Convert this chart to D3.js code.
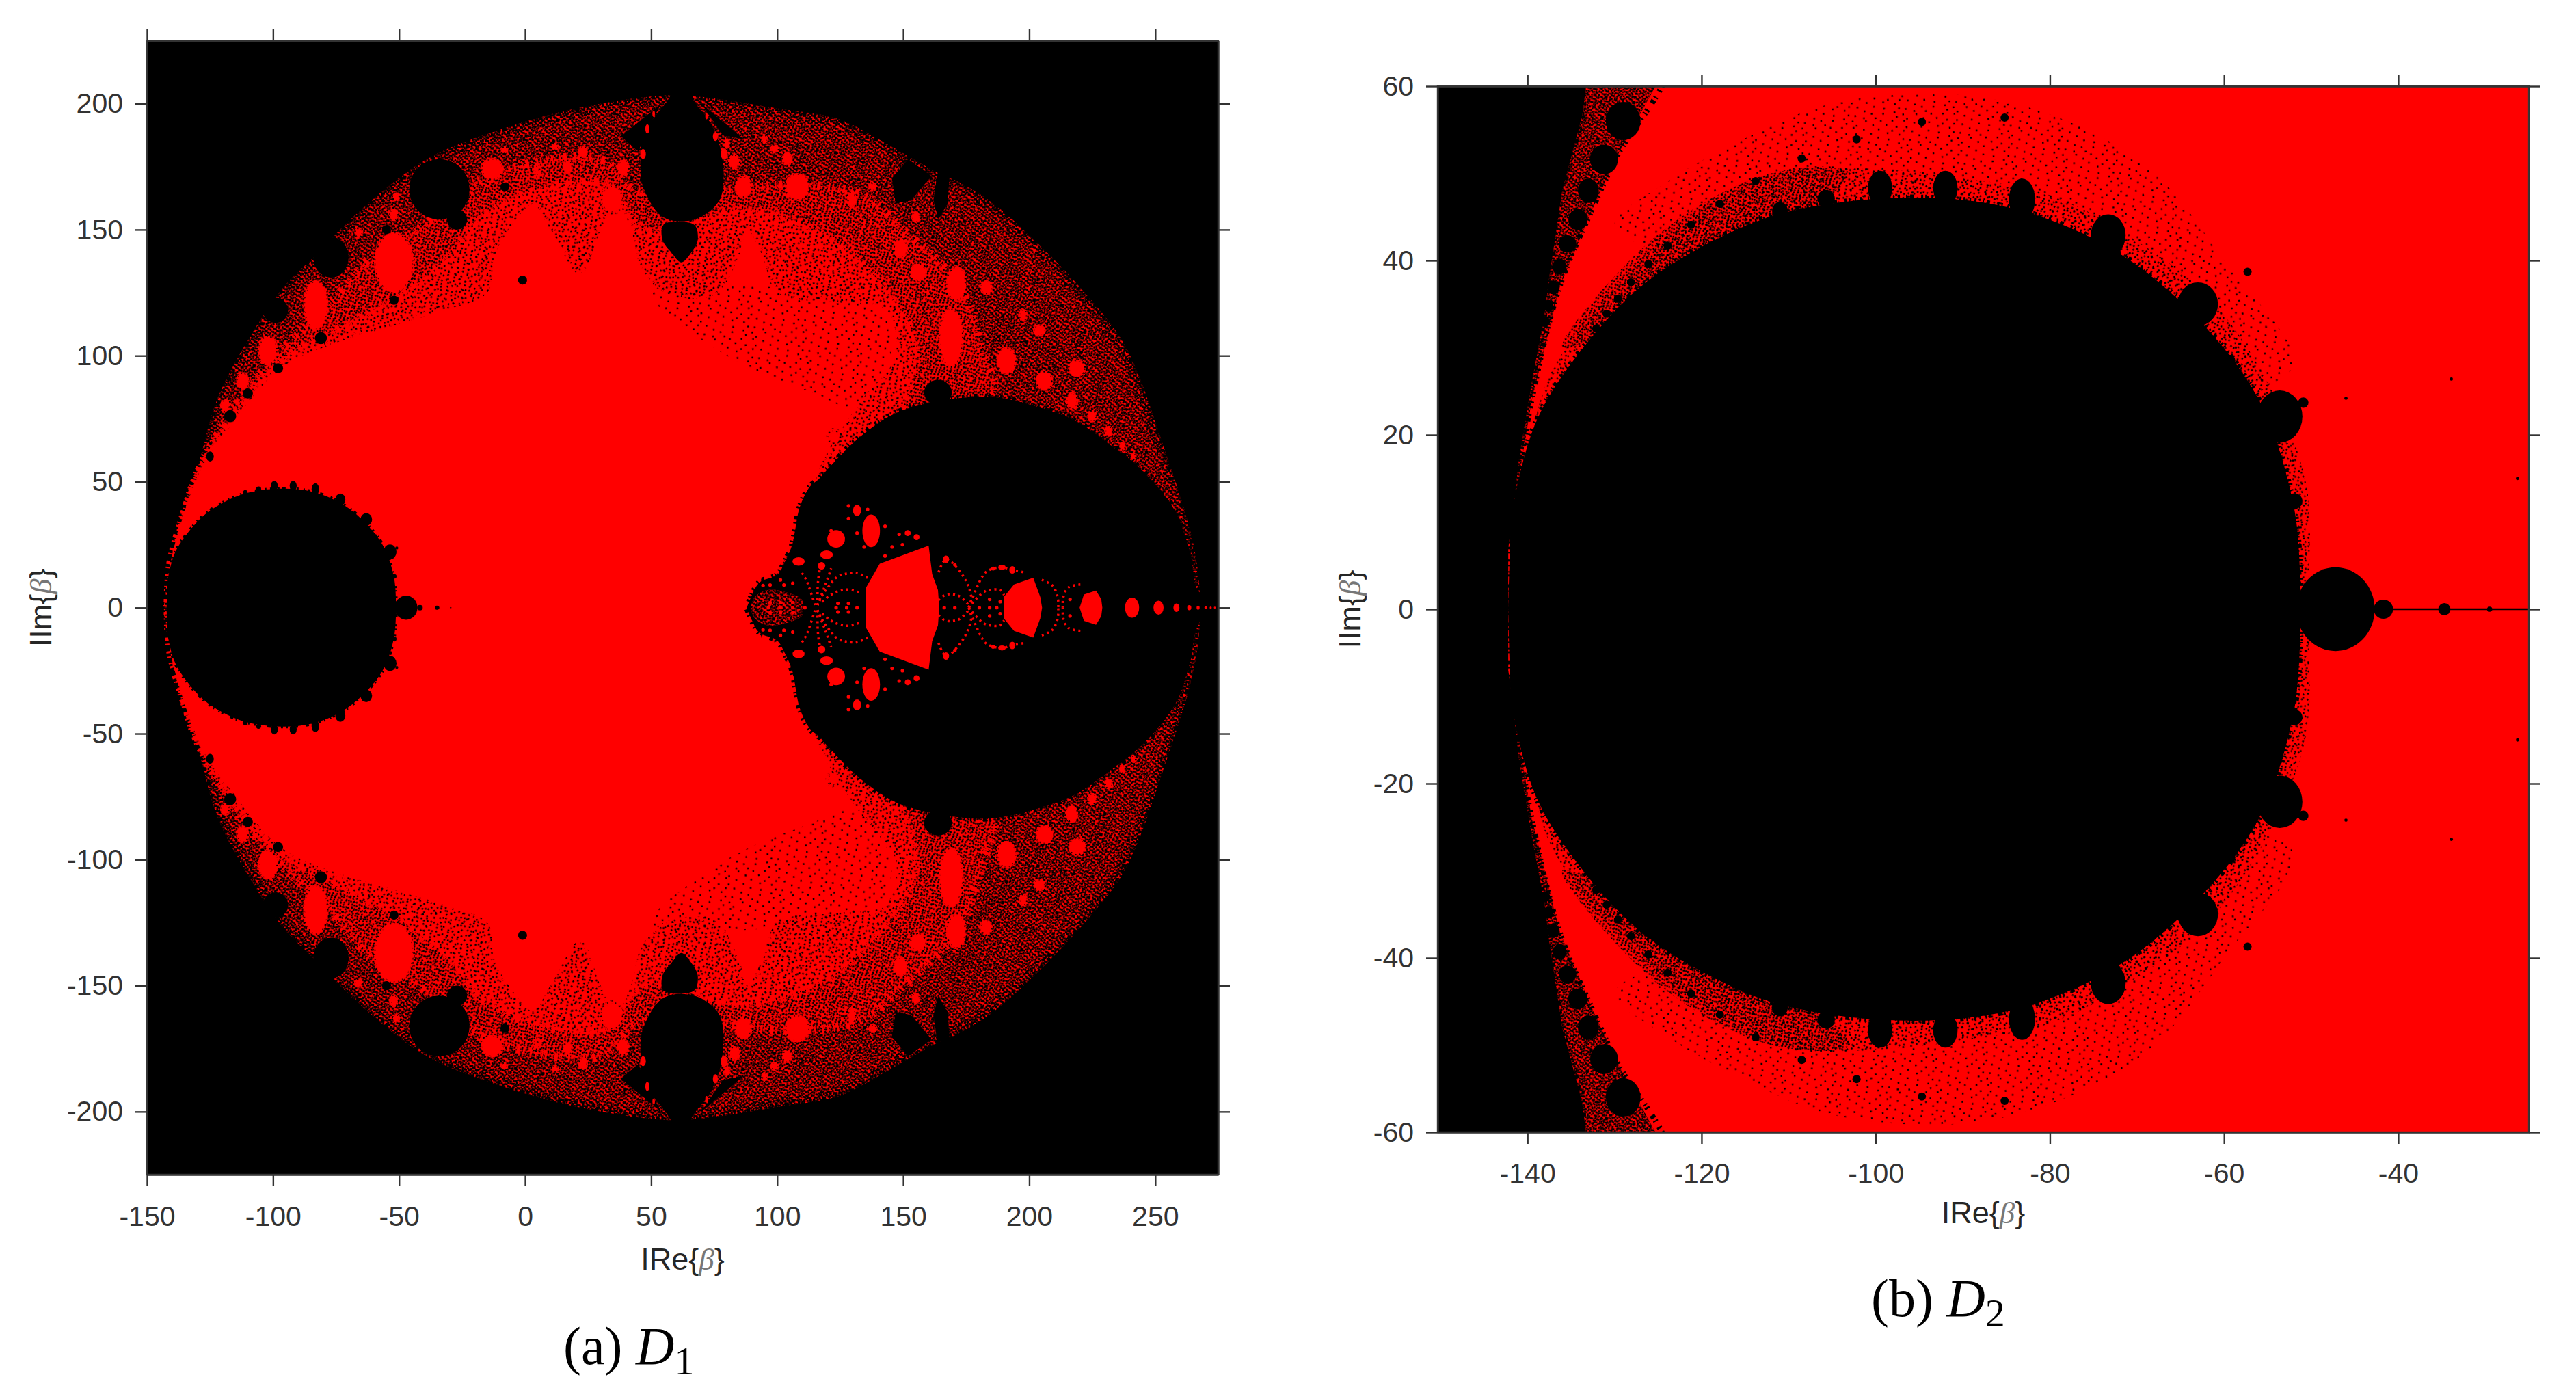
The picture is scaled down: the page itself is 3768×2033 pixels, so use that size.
<!DOCTYPE html>
<html>
<head>
<meta charset="utf-8">
<script src="https://cdnjs.cloudflare.com/ajax/libs/d3/7.8.5/d3.min.js"></script>
<style>
  html, body { margin: 0; background: #fff; }
  text { font-family: "Liberation Sans", Arial, sans-serif; fill: #262626; }
  .caption { font-family: "Liberation Serif", serif; fill: #000; }
  .tick line, .domain { stroke: #333; stroke-width: 2.4; }
</style>
</head>
<body>
<div id="chart"></div>
<script>
// ticks
var xTicksA = [-150, -100, -50, 0, 50, 100, 150, 200, 250];
var yTicksA = [-200, -150, -100, -50, 0, 50, 100, 150, 200];
var xTicksB = [-140, -120, -100, -80, -60, -40];
var yTicksB = [-60, -40, -20, 0, 20, 40, 60];

// everything below in data units, upper half only
// (the set is symmetric about Im = 0, the lower half is the mirror image)
var outerEdge = [[-143, 0], [-141, 11], [-136, 35], [-130, 55], [-122, 83], [-110, 106], [-96, 127], [-84, 139], [-65, 158], [-39, 178], [-9, 190], [20, 198], [52, 203], [67, 203], [101, 198], [124, 194], [140, 186], [154, 178], [163, 173], [172, 169], [185, 161], [202, 146], [222, 125], [238, 104], [254, 62], [264, 30], [267, 14], [268, 0]];
var midEdge = [[-142, 0], [-132, 48], [-115, 80], [-97, 102], [-78, 120], [-60, 140], [-40, 152], [-25, 166], [0, 176], [30, 178], [45, 165], [80, 166], [110, 168], [135, 163], [150, 150], [172, 128], [182, 100], [186, 85], [140, 60], [100, 0]];
var innerEdge = [[-142, 0], [-130, 52], [-100, 96], [-72, 112], [-50, 124], [-30, 140], [-18, 155], [5, 166], [32, 168], [48, 150], [85, 158], [115, 150], [140, 130], [155, 105], [150, 80], [100, 0]];
var coreEdge = [[-141.5, 9], [-140, 21], [-128, 56], [-117, 72], [-97, 95], [-78, 104], [-52, 112], [-32, 118], [-15, 125], [-12, 140], [-5, 152], [3, 160], [10, 150], [22, 132], [30, 150], [36, 161], [42, 150], [46, 135], [55, 125], [75, 124], [85, 140], [88, 150], [94, 140], [100, 125], [125, 121], [143, 118], [147, 100], [134, 83], [118, 58], [110, 35], [100, 15], [88, 0]];
var coreSpeck = [[50, 125], [140, 118], [145, 100], [130, 80], [115, 85], [80, 100]];

var leftDisc = [[-142.2, 0], [-142, 7], [-141.8, 10.8], [-139.2, 21], [-135.4, 27.6], [-127.8, 36.3], [-120.3, 41.4], [-110.8, 45.4], [-96.7, 47.2], [-84.4, 46], [-73, 41.4], [-63.7, 34], [-56, 24], [-51.9, 11.3], [-51.2, 0]];
var rightDisc = [[88, 0], [90, 5], [93, 10], [100, 13], [103, 18], [106, 25], [107, 30], [109, 40], [113, 48], [116.5, 51], [121, 56], [134, 68.7], [150, 78.4], [183, 83.7], [205.5, 79], [218.6, 74], [231.6, 65], [244.6, 54.7], [257.6, 38.8], [264, 21], [266.8, 7], [275, 0]];

// black shapes reaching out of the ring
var onion = [[57, 202], [49.3, 192], [46.6, 187.5], [45.8, 176.7], [46.6, 167.7], [54.7, 155], [67, 154], [77, 161.5], [78.4, 176.7], [74.3, 191], [66, 202.5], [62, 212]];
var drop = [[55, 152], [67, 152], [68.5, 146], [66, 141], [62, 137], [58, 141], [54.5, 146]];
var cuspLeft = [[145.5, 170.4], [152, 178], [161.3, 171.3], [153, 161.6], [147, 160.4]];
var cuspRight = [[163.5, 172.3], [168.5, 172.1], [167.6, 160.4], [164, 154], [162, 161.5]];
var leftSliver = [[54, 200], [38, 187], [45, 181], [47, 187]];
var rightSliver = [[70, 200], [86.8, 185.8], [78.4, 187.5]];

// [x, y, rx, ry]
var blackBlobs = [[-34, 166, 12, 12], [-27, 154, 4, 4], [-77, 139, 7, 8], [-99, 118, 5, 5], [-117, 76, 2.4, 2.4], [-110, 85, 2, 2], [-98, 95, 2, 2], [-81, 107, 2.4, 2.4], [-52, 122, 1.8, 1.8], [-1, 130, 1.8, 1.8], [-55, 150, 1.8, 1.8], [-8, 167, 1.8, 1.8], [163.8, 85.4, 5.5, 5], [-125, 60, 1.5, 2], [-35, 0, 0.8, 0.8]];
var redBlobs = [[-13, 174, 4.5, 4.5], [34.5, 162, 4.5, 5.5], [86.6, 167, 3.5, 4.5], [108, 167, 5, 5.5], [39, 174.5, 2.5, 3.5], [5, 173, 2, 2.5], [17, 175, 2, 3], [80, 184, 1.5, 2], [83, 177, 2.5, 3], [149, 142.5, 3, 4], [156, 133, 3.5, 3.5], [171, 128.5, 4, 7], [169, 107, 5, 12], [191, 98, 4, 5.5], [206, 90, 3.5, 4], [219, 95, 3.5, 3.5], [217, 82, 2.5, 3.5], [225, 76, 2, 2.5], [231.6, 70, 1.7, 2.2], [237, 64, 1.3, 1.8], [241.4, 60, 1.2, 1.7], [183, 127, 2.5, 3], [197.6, 116, 1.8, 2.6], [204, 110, 2.5, 2.5], [155, 155, 1.8, 2.3], [-52, 137, 8, 12], [-83, 120, 5, 10], [-102, 102, 4, 6], [-112, 90, 2.6, 3.5], [-119, 80, 2, 2.6], [-66, 149, 1.8, 1.8], [-52, 156, 1.8, 2.6], [-51, 163, 1.4, 1.8], [122.5, 68, 2.6, 2.6], [-8.2, 181.8, 1.5, 1.5], [12, 183, 1.5, 1.5], [23, 181, 2, 2.5], [4.3, 174, 1.6, 1.6], [104, 178, 2.2, 2.8], [99, 182, 1.8, 1.8], [129.6, 162, 1.8, 3.6], [138, 167, 1.8, 1.8], [95, 186, 1.3, 1.8]];
var beads = [[46.8, 180, 1.1, 2], [48.5, 190, 0.8, 1.8], [75.5, 187, 1, 1.8], [79, 180, 1.4, 2.2], [51, 196, 0.5, 1.2], [72, 195, 0.5, 1.2]];

// red shapes inside the right disc
var juliaBig = [[135.2, 0], [135.2, 7.9], [140.7, 17.4], [160.1, 24.6], [161.5, 13.3], [163.8, 7], [164.3, 0]];
var juliaMid = [[189.9, 0], [189.9, 4.2], [194, 9.2], [201.6, 11.9], [204.4, 4.2], [205.1, 0]];
var juliaSmall = [[220, 0], [221.7, 5.2], [226.5, 6.8], [228.6, 3.3], [229, 0]];
var juliaHaze = [[89.5, 0], [91, 4], [96, 7], [104, 6], [110, 3], [110, 0]];
var juliaBlobs = [[240.8, 0, 2.8, 4], [251.3, 0, 2, 2.8], [258.4, 0, 1.2, 1.7], [263.5, 0, 0.8, 1], [267, 0, 0.6, 0.8], [270, 0, 0.5, 0.6], [272, 0, 0.4, 0.5], [273.6, 0, 0.35, 0.4], [131.7, 38.6, 1.6, 2.2], [137.3, 30.5, 3.5, 6.5], [123.4, 27.3, 3.5, 3.5], [119.6, 21, 2.5, 1.7], [117.6, 16.6, 1.5, 1.5], [108.5, 18.3, 2.4, 1.7], [151.8, 29.6, 1.2, 1.2], [155.3, 28, 1.2, 1.2], [167, 19.2, 1.2, 1.5], [170.5, 17, 0.7, 0.7], [189.2, 16, 1.5, 1], [193.3, 15, 1.2, 1.5], [185.7, 15.5, 0.8, 0.8]];
var juliaDots = [[123.4, 0], [127.6, 0], [131.7, 0], [124.1, 1.7], [128.3, 1.7], [111, 0], [106.2, 0], [101.3, 0], [96.5, 0], [106.2, 2], [101.3, 2], [97.2, 2], [166.3, 0], [170.5, 0], [180.2, 0], [184.3, 0], [187.1, 0], [184.3, 3.3], [188.5, 2.4], [216.2, 3.3], [145.6, 24.1], [142.8, 20.5], [149.7, 25], [148.4, 29.1], [142.8, 32.3], [128.3, 35.4], [128.3, 40.4], [135.9, 39], [134.5, 24.1], [131.7, 29.6], [121.4, 30.5], [94.4, 8.8], [93, 11.5], [97.2, 9], [102.7, 9], [106.2, 9.7], [101.3, 11]];
var juliaArcs = [
    [[135.9, 11.8], [131.7, 13.7], [127.6, 13.5], [124.1, 12.4], [120.7, 8.8], [118, 5], [116, 1]],
    [[132.4, 6.1], [128.3, 7.2], [124.1, 6.5], [120.7, 4.7], [117, 1.5]],
    [[116, 1], [116.1, 8.8], [116.5, 12.8], [117.2, 16.5]],
    [[115, 1], [111.7, 10.6], [109.6, 14.2]],
    [[116, 1], [120, 11.5], [121.4, 15.6]],
    [[164, 14], [167, 19.2], [172, 15], [175.3, 9.7], [177, 4], [176, 0]],
    [[164, 3], [167, 5.2], [172, 4.7], [176, 1]],
    [[176, 0], [180.9, 11.5], [182.9, 14.2], [185.7, 15.5], [189.2, 16], [193.3, 15], [198, 14]],
    [[176, 0], [181.6, 6], [184.3, 7], [188.5, 7], [190, 5]],
    [[205, 11], [209.2, 8.8], [211.3, 4.2], [211.5, 0]],
    [[220.3, 9.2], [215.5, 8], [213.5, 4], [213.3, 0]]
];

// zoomed panel: the boundary of the red area and its fringe
var bStrip = [[-142, 8], [-141, 17], [-139.5, 26], [-138, 34], [-137.5, 38], [-136, 48], [-133.7, 56.6], [-133, 62], [-124.2, 62], [-129.7, 52], [-132.5, 46], [-136.3, 37], [-139.5, 24], [-141.5, 12]];
var bRed = [[-142.2, 7], [-141.5, 12], [-139.5, 24], [-136.3, 37], [-132.5, 46], [-129.7, 52], [-124.2, 62], [-20, 62]];
var bFringe = [[-139, 22], [-135, 31], [-130, 37], [-125, 42], [-118, 47], [-110, 50.5], [-100, 50.5], [-90, 49.5], [-80, 47.5], [-72, 43.5], [-62, 36], [-55, 26], [-50.5, 14], [-50.5, 0]];
var bFringeLeft = [[-136, 30], [-125, 43], [-112, 50], [-103, 50], [-110, 44], [-125, 35]];
var bHaze = [[-130, 44], [-124, 49], [-115, 54], [-105, 58], [-90, 59], [-78, 56], [-68, 50], [-60, 40], [-52, 28], [-60, 25], [-90, 40], [-120, 40]];
var bSatellites = [[-99.5, 48.3, 1.4, 2], [-92, 48.3, 1.4, 2], [-83.2, 47, 1.5, 2.4], [-73.3, 42.9, 2, 2.4], [-63, 35, 2.3, 2.5], [-53.6, 22.1, 2.6, 3], [-105.7, 47.1, 1, 1], [-111, 45.7, 0.9, 1], [-51.9, 12.4, 0.9, 0.9], [-59.4, 28.5, 0.7, 0.7], [-50.9, 23.7, 0.6, 0.6], [-47.2, 0, 4.5, 4.8], [-41.7, 0, 1.1, 1.1], [-34.7, 0, 0.7, 0.7], [-29.5, 0, 0.3, 0.3]];
var bChain = [[-129, 56, 2, 2.2], [-131.2, 51.6, 1.6, 1.7], [-133, 48, 1.2, 1.4], [-134.2, 44.7, 1.1, 1.2], [-135.4, 41.9, 1, 1], [-136.3, 39.3, 0.8, 0.9], [-137, 36.9, 0.7, 0.8], [-137.6, 34.8, 0.6, 0.7], [-138, 33, 0.6, 0.6]];
var bSpecks = [[-57.3, 38.7], [-94.7, 55.9], [-85.2, 56.4], [-102.2, 53.9], [-108.5, 51.7], [-113.8, 49.1], [-117.9, 46.5], [-121.2, 44.1], [-123.9, 41.7], [-126.1, 39.6], [-128.1, 37.5], [-129.6, 35.6], [-130.9, 33.9], [-132.1, 32.2]];
var bFarSpecks = [[-46, 24.2], [-26.3, 15], [-33.9, 26.4]];
var spine = [[-41, 0], [-25, 0]];

// bit tiles for the speckle texture, one cell is one pixel of the original raster
var tileHeavyA = ["10010110001001101", "00101001100110010", "11000100011000101", "00110011000101100", "01001000110010011", "10100101001100100", "00011010010001011", "11000100101100100", "00101001000011010", "10010110110000101", "01100001001011000", "00011010100100110", "10100100011010001"];
var tileHeavyB = ["00100010001", "10001000100", "00010100010", "01000001001", "00100100100", "10000010010", "00011000001", "01000100100", "00100001010", "10010000100", "00000110001", "01001000010", "10000010100", "00101000001", "01000101000", "00010000110", "10100010000", "00001001001", "01010000100"];
var tileLight = ["00000100000001000000100", "01000000010000000100000", "00000010000000100000001", "00100000000100000010000", "00000001000000001000000", "10000000010000100000010", "00010000000000000100000", "00000100100000100000000", "01000000000010000001000", "00000010000000000100001", "00100000001000010000000", "00000001000000000001000", "10000000000100100000000", "00001000100000000010000", "00000000000001000000010", "01000010000000010000000", "00000000010000000100000"];
var tileSparse = ["0000000100000000000000000010000", "0000000000000000100000000000000", "0100000000000000000000010000000", "0000000000010000000000000000001", "0000000000000000000100000000000", "0000010000000000000000000000000", "0000000000000010000000000100000", "1000000000000000000000000000000", "0000000001000000000000100000000", "0000000000000000000100000000010", "0001000000000000000000000000000", "0000000000000100000000000010000", "0000000000000000000000000000000", "0000000100000000000100000000000", "0000000000000000000000000000100", "0100000000010000000000000000000", "0000000000000000001000000100000", "0000001000000000000000000000000", "0000000000000100000000000000001"];

var red = "#ff0000";
var cell = 2.4;
var fuzz = "2 5 3 9 2 4 5 11 3 3 2 7";

var svg = d3.select("#chart").append("svg")
    .attr("width", 3768)
    .attr("height", 2033)
    .style("display", "block");

var defs = svg.append("defs");

function addTile(id, rows, angle) {
    var p = defs.append("pattern")
        .attr("id", id)
        .attr("patternUnits", "userSpaceOnUse")
        .attr("patternTransform", `rotate(${angle})`)
        .attr("width", rows[0].length * cell)
        .attr("height", rows.length * cell);
    rows.forEach(function(row, j) {
        row.split("").forEach(function(c, i) {
            if (c == "1") {
                p.append("rect")
                    .attr("x", i * cell)
                    .attr("y", j * cell)
                    .attr("width", cell)
                    .attr("height", cell)
                    .attr("fill", "#000");
            }
        });
    });
}
addTile("heavyA", tileHeavyA, 11);
addTile("heavyB", tileHeavyB, -23);
addTile("light", tileLight, 37);
addTile("sparse", tileSparse, -8);

// upper half + mirrored lower half
function flip(pts) {
    return pts.map(function(d) { return [d[0], -d[1]]; });
}
function both(pts) {
    return pts.concat(flip(pts).reverse());
}
function mirrored(list) {
    return list.concat(list.filter(function(d) { return d[1] != 0; }).map(function(d) {
        return [d[0], -d[1]].concat(d.slice(2));
    }));
}

function panel(id, box, xDomain, yDomain) {
    var x = d3.scaleLinear().domain(xDomain).range([0, box.w]);
    var y = d3.scaleLinear().domain(yDomain).range([box.h, 0]);
    var g = svg.append("g").attr("transform", `translate(${box.x}, ${box.y})`);

    defs.append("clipPath").attr("id", id).append("rect")
        .attr("width", box.w).attr("height", box.h);

    var plot = g.append("g").attr("clip-path", `url(#${id})`);
    plot.append("rect").attr("width", box.w).attr("height", box.h).attr("fill", "#000");

    var smooth = d3.line().x(d => x(d[0])).y(d => y(d[1])).curve(d3.curveCatmullRomClosed.alpha(0.5));
    var sharp = d3.line().x(d => x(d[0])).y(d => y(d[1])).curve(d3.curveLinearClosed);
    var open = d3.line().x(d => x(d[0])).y(d => y(d[1])).curve(d3.curveCatmullRom.alpha(0.5));

    return {
        g: g,
        plot: plot,
        x: x,
        y: y,
        // one shape, filled with each of the given fills in turn
        area: function(pts, fills, curved) {
            fills.forEach(function(f) {
                plot.append("path").attr("d", (curved === false ? sharp : smooth)(pts)).attr("fill", f);
            });
        },
        // rough edge: short dashes along the outline
        rough: function(pts, color, width, dash) {
            plot.append("path").attr("d", smooth(pts))
                .attr("fill", "none")
                .attr("stroke", color)
                .attr("stroke-width", width)
                .attr("stroke-dasharray", dash);
        },
        arcs: function(list, color, width, dash) {
            plot.append("g").selectAll("path").data(list.concat(list.map(flip))).enter().append("path")
                .attr("d", d => open(d))
                .attr("fill", "none")
                .attr("stroke", color)
                .attr("stroke-width", width)
                .attr("stroke-dasharray", dash);
        },
        blobs: function(list, color, edge) {
            plot.append("g").selectAll("ellipse").data(mirrored(list)).enter().append("ellipse")
                .attr("cx", d => x(d[0]))
                .attr("cy", d => y(d[1]))
                .attr("rx", d => Math.abs(x(d[2]) - x(0)))
                .attr("ry", d => Math.abs(y(d[3]) - y(0)))
                .attr("fill", color)
                .attr("stroke", edge || "none")
                .attr("stroke-width", 5)
                .attr("stroke-dasharray", edge ? "3 4" : "none");
        },
        dots: function(list, color, size) {
            plot.append("g").selectAll("circle").data(mirrored(list)).enter().append("circle")
                .attr("cx", d => x(d[0]))
                .attr("cy", d => y(d[1]))
                .attr("r", size)
                .attr("fill", color);
        }
    };
}

function drawAxes(p, box, xTicks, yTicks, labelBase, yLabelX, padB) {
    var fmt = d => String(d);
    var tick = 17;
    p.g.append("g").attr("transform", `translate(0, ${box.h})`)
        .call(d3.axisBottom(p.x).tickValues(xTicks).tickFormat(fmt).tickSizeInner(tick).tickSizeOuter(0).tickPadding(padB));
    p.g.append("g")
        .call(d3.axisTop(p.x).tickValues(xTicks).tickFormat("").tickSizeInner(tick).tickSizeOuter(0));
    var left = p.g.append("g")
        .call(d3.axisLeft(p.y).tickValues(yTicks).tickFormat(fmt).tickSizeInner(tick).tickSizeOuter(0).tickPadding(0));
    p.g.append("g").attr("transform", `translate(${box.w}, 0)`)
        .call(d3.axisRight(p.y).tickValues(yTicks).tickFormat("").tickSizeInner(tick).tickSizeOuter(0));

    p.g.selectAll("text").attr("font-size", 41).style("font-family", '"Liberation Sans", Arial, sans-serif').style("fill", "#333");
    left.selectAll("text").attr("x", -35);

    // axis names
    var xl = svg.append("text")
        .attr("x", box.x + box.w / 2)
        .attr("y", labelBase)
        .attr("text-anchor", "middle")
        .attr("font-size", 45);
    xl.append("tspan").text("IRe{");
    xl.append("tspan").text("β").attr("font-style", "italic").style("font-family", '"Liberation Serif", serif').style("fill", "#777");
    xl.append("tspan").text("}");

    var yl = svg.append("text")
        .attr("transform", `translate(${yLabelX}, ${box.y + box.h / 2}) rotate(-90)`)
        .attr("text-anchor", "middle")
        .attr("font-size", 45);
    yl.append("tspan").text("IIm{");
    yl.append("tspan").text("β").attr("font-style", "italic").style("font-family", '"Liberation Serif", serif').style("fill", "#777");
    yl.append("tspan").text("}");
}

function caption(letter, name, sub, px, py) {
    var t = svg.append("text").attr("class", "caption").attr("x", px).attr("y", py).attr("font-size", 78);
    t.append("tspan").text(letter + " ");
    t.append("tspan").text(name).attr("font-style", "italic");
    t.append("tspan").text(sub).attr("font-size", 58).attr("dy", 15);
}

// ---- (a) D1 ----
var boxA = { x: 215, y: 59.5, w: 1567, h: 1658.5 };
var a = panel("clipA", boxA, [-150, 275], [-225, 225]);

a.area(both(outerEdge), [red, "url(#heavyA)", "url(#heavyB)"]);
a.rough(both(outerEdge), "#000", 9, fuzz);
a.rough(both(outerEdge), "url(#heavyA)", 26, "none");
a.area(both(midEdge), [red, "url(#heavyB)", "url(#light)"]);
a.rough(both(midEdge), red, 12, fuzz);
a.area(both(innerEdge), [red, "url(#light)", "url(#sparse)"]);
a.rough(both(innerEdge), red, 10, fuzz);
a.area(both(coreEdge), [red]);
a.rough(both(coreEdge), red, 12, fuzz);
a.area(coreSpeck, ["url(#sparse)"]);
a.area(flip(coreSpeck), ["url(#sparse)"]);

a.blobs(redBlobs, red, "url(#heavyB)");
a.blobs(blackBlobs, "#000");
a.blobs(bSatellites, "#000");

[onion, drop].forEach(function(s) {
    a.area(s, ["#000"]);
    a.area(flip(s), ["#000"]);
});
[cuspLeft, cuspRight, leftSliver, rightSliver].forEach(function(s) {
    a.area(s, ["#000"], false);
    a.area(flip(s), ["#000"], false);
});
a.blobs(beads, red);

a.area(both(leftDisc), ["#000"]);
a.rough(both(leftDisc), "#000", 5, fuzz);
a.area(both(rightDisc), ["#000"]);
a.rough(both(rightDisc), "#000", 9, fuzz);

a.area(both(juliaHaze), [red, "url(#heavyA)", "url(#heavyB)", "url(#light)"]);
[juliaBig, juliaMid, juliaSmall].forEach(function(s) {
    a.area(both(s), [red], false);
});
a.blobs(juliaBlobs, red);
a.arcs(juliaArcs, red, 3.5, "3 5");
a.dots(juliaDots, red, 2.6);

a.g.append("rect").attr("width", boxA.w).attr("height", boxA.h)
    .attr("fill", "none").attr("stroke", "#444").attr("stroke-width", 2.4);
drawAxes(a, boxA, xTicksA, yTicksA, 1857, 75, 29);
caption("(a)", "D", "1", 824, 1995);

// ---- (b) D2 ----
var boxB = { x: 2103, y: 126, w: 1596, h: 1530 };
var b = panel("clipB", boxB, [-150.3, -25], [-60, 60]);

b.area(both(bRed), [red], false);
b.area(bStrip, [red, "url(#heavyA)", "url(#heavyB)"], false);
b.area(flip(bStrip), [red, "url(#heavyA)", "url(#heavyB)"], false);
b.rough(bStrip, "#000", 8, fuzz);
b.rough(flip(bStrip), "#000", 8, fuzz);
b.area(bHaze, ["url(#sparse)"]);
b.area(flip(bHaze), ["url(#sparse)"]);
b.area(both(bFringe), ["url(#light)", "url(#sparse)"]);
b.area(bFringeLeft, ["url(#heavyB)"]);
b.area(flip(bFringeLeft), ["url(#heavyB)"]);

b.blobs(bChain, "#000");
b.blobs(bSatellites, "#000");
b.dots(bSpecks, "#000", 6);
b.dots(bFarSpecks, "#000", 2.4);

b.area(both(leftDisc), ["#000"]);
b.rough(both(leftDisc), "#000", 9, fuzz);

b.plot.append("path")
    .attr("d", d3.line().x(d => b.x(d[0])).y(d => b.y(d[1]))(spine))
    .attr("stroke", "#000").attr("stroke-width", 2.4);

b.g.append("rect").attr("width", boxB.w).attr("height", boxB.h)
    .attr("fill", "none").attr("stroke", "#444").attr("stroke-width", 2.4);
drawAxes(b, boxB, xTicksB, yTicksB, 1789, 1990, 28);
caption("(b)", "D", "2", 2737, 1925);
</script>
</body>
</html>
